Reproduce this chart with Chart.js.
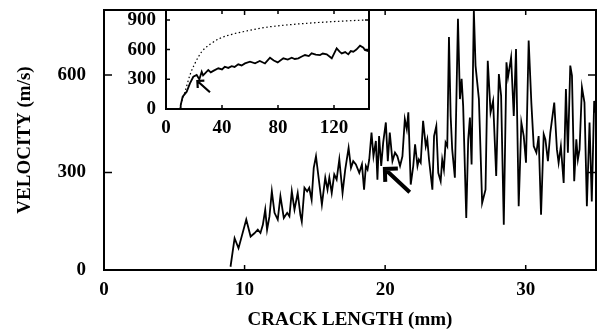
<!DOCTYPE html>
<html>
<head>
<meta charset="utf-8">
<script src="https://cdn.jsdelivr.net/npm/chart.js@4"></script>
<style>
  html, body { margin: 0; padding: 0; background: #fff; }
  #wrap { position: relative; width: 597px; height: 331px; }
  #main { position: absolute; left: 0; top: 0; }
  #inset { position: absolute; left: 110px; top: 0; }
</style>
</head>
<body>
<div id="wrap">
  <canvas id="main" width="597" height="331"></canvas>
  <canvas id="inset" width="262" height="140"></canvas>
</div>
<script>
// main plot: velocity vs crack length (mm)
const crackLength = [9.0, 9.29, 9.57, 10.12, 10.43, 10.7, 10.94, 11.13, 11.3, 11.47, 11.6, 11.77, 11.94, 12.13, 12.36,
  12.55, 12.79, 13.03, 13.19, 13.36, 13.55, 13.78, 13.97, 14.07, 14.26, 14.45, 14.6, 14.77, 14.92, 15.08, 15.5,
  15.74, 15.9, 16.03, 16.2, 16.38, 16.55, 16.74, 16.97, 17.16, 17.4, 17.57, 17.73, 17.92, 18.16, 18.35, 18.5,
  18.63, 18.75, 18.87, 19.03, 19.17, 19.34, 19.45, 19.57, 19.72, 19.86, 20.05, 20.19, 20.33, 20.52, 20.7, 20.87,
  21.06, 21.23, 21.4, 21.54, 21.65, 21.82, 22.0, 22.13, 22.3, 22.4, 22.53, 22.7, 22.89, 23.0, 23.12, 23.36,
  23.48, 23.64, 23.78, 23.95, 24.06, 24.18, 24.3, 24.42, 24.54, 24.66, 24.77, 24.96, 25.18, 25.32, 25.44, 25.55,
  25.77, 25.91, 26.03, 26.15, 26.31, 26.43, 26.67, 26.9, 27.14, 27.3, 27.5, 27.68, 27.9, 28.09, 28.25, 28.44,
  28.63, 28.74, 28.96, 29.15, 29.31, 29.5, 29.69, 29.86, 30.02, 30.21, 30.4, 30.57, 30.76, 30.92, 31.09, 31.28,
  31.4, 31.58, 31.75, 32.03, 32.22, 32.34, 32.5, 32.7, 32.86, 33.0, 33.17, 33.29, 33.45, 33.6, 33.71, 33.83,
  34.0, 34.18, 34.35, 34.54, 34.7, 34.87, 35.0];
const velocity = [10, 98, 67, 155, 103, 113, 124, 114, 139, 186, 124, 165, 242, 176, 155,
  227, 160, 176, 165, 242, 186, 237, 170, 149, 253, 242, 253, 216, 314, 350, 201,
  284, 247, 284, 237, 294, 278, 340, 237, 309, 376, 314, 335, 325, 299, 325, 247,
  320, 309, 340, 423, 350, 397, 278, 412, 320, 392, 454, 335, 423, 335, 361, 350,
  320, 350, 464, 433, 485, 263, 320, 387, 320, 340, 330, 459, 381, 402, 340, 247,
  412, 443, 299, 273, 340, 309, 392, 381, 717, 474, 371, 284, 773, 526, 588, 505,
  160, 402, 469, 325, 800, 629, 526, 206, 247, 644, 485, 520, 289, 603, 536, 139,
  639, 593, 654, 474, 680, 196, 454, 412, 330, 706, 515, 381, 361, 412, 170, 418,
  402, 335, 423, 515, 371, 330, 381, 268, 557, 361, 629, 598, 273, 402, 340, 371,
  562, 515, 196, 454, 211, 520, 480];
const mainXTicks = [0, 10, 20, 30];
const mainYTicks = [0, 300, 600];
const mainArrow = { from: [21.75, 239], to: [19.98, 311] };

// inset: wider range, solid = measured, dotted = reference curve
const insetX = [10, 10.5, 11.9, 14.8, 17.1, 19.5, 21.9, 23.8, 25.5, 26.5, 27.9, 30.2, 32, 33.8, 37.4, 40, 42,
  44.5, 46.9, 49, 51.6, 54, 56.4, 60, 63.6, 67, 70.7, 74.3, 77, 79.8, 83.8, 87, 89.8, 92, 94.5, 97, 99.3,
  102, 104, 107, 110, 112, 114.8, 118.4, 121.9, 124, 125.5, 128, 130.2, 132, 133.8, 136, 138.6, 141, 142, 144.5];
const insetVelocity = [0, 40, 124, 175, 259, 326, 343, 300, 377, 340, 360, 394, 370, 385, 411, 400, 427,
  415, 432, 425, 451, 440, 461, 478, 461, 485, 460, 518, 490, 471, 512, 500, 518, 505, 512, 530, 545,
  535, 562, 550, 545, 560, 552, 512, 613, 580, 562, 575, 552, 585, 579, 600, 640, 620, 596, 585];
const curveX = [10, 10.5, 13.6, 17.1, 20.7, 25.5, 31.4, 38.6, 48, 57.6, 67, 74.3, 94.5, 118.4, 142];
const curveVelocity = [0, 40, 175, 343, 461, 579, 653, 714, 758, 788, 815, 831, 859, 882, 899];
const insetXTicks = [0, 40, 80, 120];
const insetYTicks = [0, 300, 600, 900];
const insetArrow = { from: [31.4, 169], to: [22.4, 283] };

const serif = { family: '"Liberation Serif", "Times New Roman", serif', size: 19, weight: 'bold' };

// frame, inward tick marks and the little arrows
const frameTicks = {
  id: 'frameTicks',
  afterDatasetsDraw(chart, args, opts) {
    const { ctx, chartArea: a, scales: { x, y } } = chart;
    ctx.save();
    ctx.strokeStyle = '#000';
    ctx.lineWidth = 2;
    ctx.strokeRect(a.left, a.top, a.right - a.left, a.bottom - a.top);
    ctx.lineWidth = 1.5;
    ctx.beginPath();
    x.ticks.forEach(t => {
      const px = x.getPixelForValue(t.value);
      if (px < a.left + 2) return;
      ctx.moveTo(px, a.bottom); ctx.lineTo(px, a.bottom - opts.xLen);
      ctx.moveTo(px, a.top); ctx.lineTo(px, a.top + opts.xLen);
    });
    y.ticks.forEach(t => {
      const py = y.getPixelForValue(t.value);
      if (py > a.bottom - 2) return;
      ctx.moveTo(a.left, py); ctx.lineTo(a.left + opts.yLen, py);
      ctx.moveTo(a.right, py); ctx.lineTo(a.right - opts.yLen, py);
    });
    ctx.stroke();

    const ar = opts.arrow;
    if (ar) {
      const x1 = x.getPixelForValue(ar.from[0]), y1 = y.getPixelForValue(ar.from[1]);
      const x2 = x.getPixelForValue(ar.to[0]), y2 = y.getPixelForValue(ar.to[1]);
      const ang = Math.atan2(y1 - y2, x1 - x2);
      ctx.lineWidth = opts.arrowWidth;
      ctx.lineCap = 'butt';
      ctx.beginPath();
      ctx.moveTo(x1, y1); ctx.lineTo(x2, y2);
      ctx.moveTo(x2 + opts.head * Math.cos(ang - Math.PI / 4), y2 + opts.head * Math.sin(ang - Math.PI / 4));
      ctx.lineTo(x2, y2);
      ctx.lineTo(x2 + opts.head * Math.cos(ang + Math.PI / 4), y2 + opts.head * Math.sin(ang + Math.PI / 4));
      ctx.stroke();
    }
    ctx.restore();
  }
};

function points(xs, ys) {
  return xs.map((v, i) => ({ x: v, y: ys[i] }));
}

// fixed axis boxes, no label overhang padding
function fixX(h) {
  return s => { s.height = h; s.paddingLeft = 0; s.paddingRight = 0; };
}
function fixY(w) {
  return s => { s.width = w; s.paddingTop = 0; s.paddingBottom = 0; };
}

new Chart(document.getElementById('main'), {
  type: 'line',
  data: {
    datasets: [{
      data: points(crackLength, velocity),
      borderColor: '#000',
      borderWidth: 1.8,
      pointRadius: 0,
      tension: 0
    }]
  },
  options: {
    responsive: false,
    animation: false,
    devicePixelRatio: 1,
    layout: { padding: { top: 10, right: 1 } },
    plugins: {
      legend: { display: false },
      tooltip: { enabled: false },
      frameTicks: { xLen: 5, yLen: 8, arrow: mainArrow, arrowWidth: 4, head: 13 }
    },
    scales: {
      x: {
        type: 'linear', min: 0, max: 35,
        grid: { display: false, drawTicks: false },
        border: { display: false },
        afterBuildTicks: s => { s.ticks = mainXTicks.map(v => ({ value: v })); },
        afterFit: fixX(61),
        ticks: { font: serif, color: '#000', padding: 9, maxRotation: 0 },
        title: { display: true, text: 'CRACK LENGTH (mm)', font: serif, color: '#000', padding: { top: 0, bottom: 0 } }
      },
      y: {
        type: 'linear', min: 0, max: 800,
        grid: { display: false, drawTicks: false },
        border: { display: false },
        afterBuildTicks: s => { s.ticks = mainYTicks.map(v => ({ value: v })); },
        afterFit: fixY(104),
        ticks: { font: serif, color: '#000', padding: 18 },
        title: { display: true, text: 'VELOCITY (m/s)', font: serif, color: '#000', padding: { top: 14, bottom: 0 } }
      }
    }
  },
  plugins: [frameTicks]
});

new Chart(document.getElementById('inset'), {
  type: 'line',
  data: {
    datasets: [{
      data: points(insetX, insetVelocity),
      borderColor: '#000',
      borderWidth: 1.8,
      pointRadius: 0,
      tension: 0
    }, {
      data: points(curveX, curveVelocity),
      borderColor: '#000',
      borderWidth: 1.2,
      borderDash: [1.5, 2.5],
      pointRadius: 0,
      cubicInterpolationMode: 'monotone'
    }]
  },
  options: {
    responsive: false,
    animation: false,
    devicePixelRatio: 1,
    layout: { padding: { top: 10, right: 3 } },
    plugins: {
      legend: { display: false },
      tooltip: { enabled: false },
      frameTicks: { xLen: 4, yLen: 4, arrow: insetArrow, arrowWidth: 2.2, head: 7 }
    },
    scales: {
      x: {
        type: 'linear', min: 0, max: 145,
        grid: { display: false, drawTicks: false },
        border: { display: false },
        afterBuildTicks: s => { s.ticks = insetXTicks.map(v => ({ value: v })); },
        afterFit: fixX(31),
        ticks: { font: serif, color: '#000', padding: 8, maxRotation: 0 }
      },
      y: {
        type: 'linear', min: 0, max: 1000,
        grid: { display: false, drawTicks: false },
        border: { display: false },
        afterBuildTicks: s => { s.ticks = insetYTicks.map(v => ({ value: v })); },
        afterFit: fixY(56),
        ticks: { font: serif, color: '#000', padding: 10 }
      }
    }
  },
  plugins: [frameTicks]
});
</script>
</body>
</html>
